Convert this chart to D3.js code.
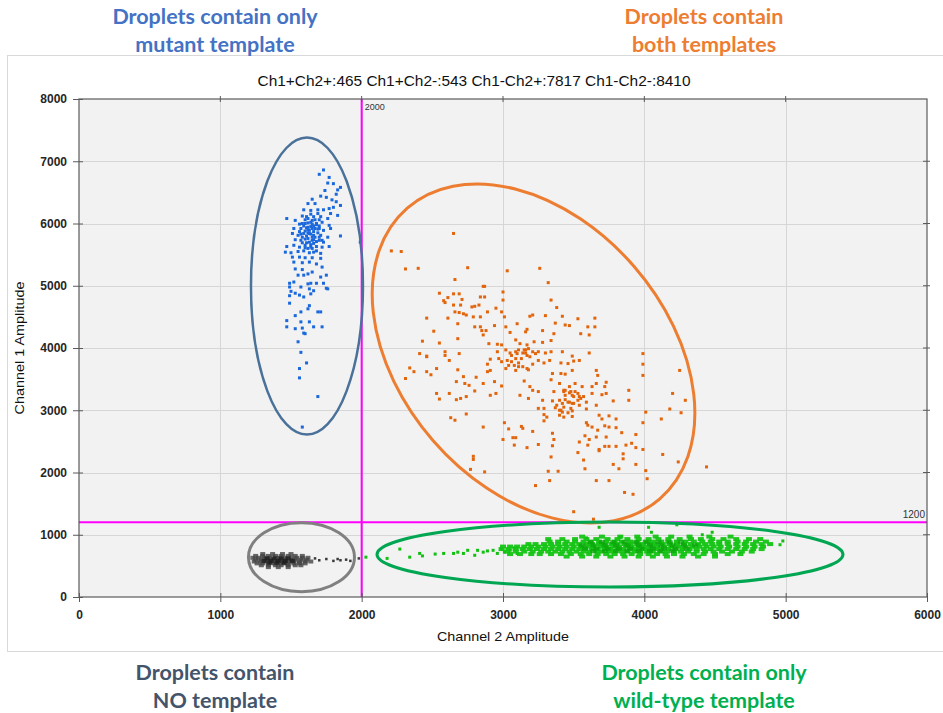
<!DOCTYPE html>
<html>
<head>
<meta charset="utf-8">
<script src="https://cdn.jsdelivr.net/npm/d3@7"></script>
<style>
  body { margin: 0; background: #fff; }
  svg text { font-family: "Liberation Sans", Arial, sans-serif; }
  .note { font-family: Lato, "Open Sans", sans-serif; font-weight: 700; font-size: 21.5px; }
</style>
</head>
<body>
<svg id="chart" width="943" height="713"></svg>
<script>
// ---- data ----
const xTicks = [0, 1000, 2000, 3000, 4000, 5000, 6000];
const yTicks = [0, 1000, 2000, 3000, 4000, 5000, 6000, 7000, 8000];
const titleText = 'Ch1+Ch2+:465 Ch1+Ch2-:543 Ch1-Ch2+:7817 Ch1-Ch2-:8410';
const ch2Threshold = 2000;
const ch1Threshold = 1200;

// Ch1+ Ch2- : mutant only (blue)
const bluePoints = [
  [1730,6860],[1700,6790],[1770,6740],[1760,6650],[1800,6640],[1830,6540],[1850,6580],[1740,6530],
  [1820,6470],[1710,6440],[1750,6420],[1790,6380],[1650,6390],[1620,6320],[1670,6320],[1820,6350],
  [1850,6290],[1800,6260],[1770,6240],[1590,6220],[1640,6210],[1690,6220],[1730,6220],[1780,6160],
  [1830,6130],[1470,6080],[1530,6050],[1580,6120],[1620,6080],[1660,6110],[1710,6110],[1760,6080],
  [1560,5990],[1600,6000],[1640,6020],[1680,6000],[1720,6020],[1770,5970],[1520,5920],[1570,5920],
  [1620,5940],[1650,5920],[1700,5920],[1730,5890],[1780,5920],[1510,5840],[1550,5810],[1590,5840],
  [1630,5840],[1660,5810],[1710,5810],[1760,5780],[1850,5800],[1990,5700],[1530,5740],[1570,5730],
  [1620,5760],[1650,5730],[1700,5730],[1730,5700],[1470,5630],[1520,5650],[1560,5620],[1600,5650],
  [1640,5620],[1680,5630],[1720,5620],[1770,5630],[1460,5540],[1500,5530],[1550,5550],[1590,5560],
  [1630,5530],[1660,5540],[1710,5520],[1510,5460],[1560,5460],[1600,5450],[1650,5450],[1710,5440],
  [1520,5380],[1580,5370],[1630,5380],[1680,5350],[1720,5300],[1530,5270],[1580,5260],[1620,5190],
  [1650,5220],[1550,5170],[1590,5170],[1710,5140],[1750,5170],[1490,5040],[1520,5060],[1620,5030],
  [1640,5040],[1680,5040],[1730,5040],[1490,4980],[1570,4980],[1630,4950],[1660,4920],[1750,4960],
  [1760,4950],[1500,4910],[1530,4880],[1640,4870],[1490,4840],[1560,4850],[1590,4820],[1490,4720],
  [1630,4680],[1620,4630],[1570,4580],[1530,4520],[1690,4580],[1710,4580],[1470,4440],[1570,4420],
  [1630,4420],[1470,4340],[1530,4310],[1580,4320],[1660,4340],[1720,4340],[1590,4240],[1600,4230],
  [1550,4100],[1570,3930],[1610,3760],[1560,3670],[1560,3520],[1690,3220],[1580,2730],
  [1620,5900],[1640,5950],[1660,5870],[1680,5980],[1600,5880],[1650,6050],[1670,5780],[1610,5800],
  [1690,5850],[1630,5700],[1640,6150],[1700,6060],[1580,5780],[1660,5680],[1620,5600],
  [1600,6060],[1620,6010],[1660,5960],[1690,5910],[1590,5960],[1610,5690],[1650,5780],[1700,5780],
  [1580,5690],[1560,5870],[1690,6160],[1670,6060],[1600,5610],[1650,5600],[1680,5560],
  [1610,5930],[1630,5890],[1670,5920],[1640,5830],[1600,5750],[1680,5710],[1620,5850],[1650,5990],
  [1570,5830],[1700,5960],[1640,5660],[1580,6000],[1720,5730],[1610,6110],[1660,5740]
];

// Ch1+ Ch2+ : both templates (orange)
const orangePoints = [
  [2650,5840],[2210,5560],[2280,5550],[2310,5270],[2400,5280],[2750,5290],[3030,5240],[3260,5280],
  [2660,5100],[3320,5050],[2860,4990],[2870,4990],[2550,4880],[2650,4870],[2690,4870],[3000,4900],
  [2610,4810],[2840,4820],[2870,4820],[2580,4760],[2590,4730],[2710,4780],[3340,4770],[3000,4770],
  [2650,4690],[2700,4690],[2780,4660],[2800,4670],[2830,4690],[2950,4640],[3380,4650],[2460,4480],
  [2610,4480],[2660,4580],[2690,4570],[2720,4550],[2740,4530],[2790,4500],[2840,4500],[2890,4580],
  [2990,4580],[3010,4500],[3190,4510],[3210,4530],[3300,4520],[3420,4510],[3530,4470],[3650,4480],
  [2680,4390],[2800,4340],[2840,4340],[2940,4360],[3020,4340],[3100,4390],[3170,4300],[3370,4400],
  [3440,4370],[3470,4360],[3600,4340],[3650,4340],[2510,4270],[2850,4280],[2880,4280],[3050,4250],
  [3160,4260],[3280,4280],[3360,4230],[3550,4230],[3610,4210],[2430,4110],[2550,4080],[2680,4150],
  [2860,4210],[2900,4070],[2960,4060],[2990,4050],[3090,4130],[3120,4070],[3170,4050],[3220,4100],
  [3280,4090],[3340,4120],[2590,3940],[2410,3910],[2460,3870],[2460,3860],[2590,3880],[2690,3910],
  [2960,3940],[3020,3970],[3050,3920],[3090,3940],[3110,3970],[3150,3970],[3160,3920],[3180,3990],
  [3210,3940],[3230,3910],[3250,3940],[3300,3920],[3340,3940],[3420,3940],[3490,3870],[3610,3920],
  [3990,3910],[2620,3800],[2890,3740],[2910,3820],[2970,3830],[2990,3780],[3030,3800],[3060,3780],
  [3080,3720],[3110,3760],[3140,3700],[3170,3670],[3210,3740],[3250,3800],[3290,3760],[3330,3800],
  [3410,3760],[3460,3750],[3500,3790],[3540,3800],[3990,3740],[2340,3680],[2370,3620],[2310,3510],
  [2460,3620],[2490,3570],[2530,3670],[2680,3650],[2890,3620],[2910,3640],[3020,3670],[3090,3640],
  [3180,3650],[3350,3590],[3410,3590],[3440,3580],[3490,3640],[3660,3640],[3670,3560],[4250,3640],
  [3990,3560],[2720,3540],[2670,3460],[2730,3430],[2760,3400],[2810,3530],[2860,3430],[2940,3460],
  [2990,3390],[3150,3470],[3190,3380],[3340,3490],[3400,3430],[3430,3320],[3470,3380],[3510,3430],
  [3560,3380],[3630,3380],[3660,3430],[3730,3450],[3720,3380],[2530,3270],[2620,3270],[2800,3310],
  [2910,3240],[2950,3270],[3120,3240],[3210,3320],[3250,3300],[3360,3300],[3430,3300],[3440,3240],
  [3480,3300],[3500,3220],[3530,3270],[3550,3190],[3570,3220],[3630,3270],[3700,3250],[3730,3270],
  [3890,3320],[4200,3270],[2550,3180],[2670,3170],[2700,3190],[2740,3220],[3180,3190],[3280,3160],
  [3350,3150],[3400,3160],[3420,3110],[3440,3170],[3470,3130],[3490,3110],[3540,3080],[3590,3130],
  [3660,3080],[3780,3150],[3890,3160],[4290,3160],[3250,3030],[3290,3030],[3370,3040],[3400,3000],
  [3420,2970],[3460,2960],[3490,2990],[3590,3020],[4010,2970],[4180,3020],[4260,2960],[2630,2880],
  [2660,2840],[2740,2940],[3290,2930],[3310,2890],[3400,2920],[3430,2890],[3490,2900],[3680,2920],
  [3750,2910],[3700,2860],[3800,2860],[3990,2800],[4120,2860],[3290,2830],[3010,2800],[3590,2800],
  [3600,2760],[3630,2730],[3670,2680],[3720,2750],[3750,2730],[3800,2720],[3840,2640],[2860,2730],
  [3040,2700],[3130,2740],[3140,2710],[3210,2660],[3350,2630],[3580,2590],[3610,2530],[3660,2570],
  [3730,2570],[3940,2610],[3070,2560],[3090,2560],[3000,2530],[3360,2530],[3540,2490],[3600,2440],
  [3680,2370],[3720,2420],[3750,2420],[3800,2420],[3870,2440],[3910,2470],[3940,2400],[3080,2440],
  [3170,2400],[3250,2450],[3350,2430],[3530,2320],[3680,2350],[3850,2300],[3990,2370],[2790,2260],
  [2790,2210],[3340,2250],[3570,2200],[3780,2130],[3850,2220],[3940,2130],[4130,2290],[4240,2170],
  [2770,2050],[2870,2010],[3320,2020],[3390,2020],[3580,2060],[3820,2060],[4010,2030],[3330,1870],
  [3660,1870],[3750,1870],[4020,1900],[3230,1790],[3860,1680],[3920,1650],[4440,2090],[3500,1370],
  [3640,1250],
  [3060,3880],[3100,3910],[3140,3920],[3160,3970],[3170,3880],[3190,3860],[3130,3830],[3090,3830],
  [3040,3720],[3110,3700],[3440,3320],[3470,3280],[3490,3240],[3510,3300],[3530,3160],[3460,3130],
  [3430,3050],[3410,3000],[3380,3080],[3480,3030],[3540,3220],[3500,3110]
];

// Ch1- Ch2+ : wild-type only (green) - sparse tail and outliers
const greenSparse = [
  [2030,640],[2180,620],[2270,770],[2340,640],[2410,700],[2430,660],[2520,690],[2580,700],
  [2650,700],[2680,720],[2720,700],[2750,750],[2800,670],[2820,750],[2860,720],[2890,740],
  [2930,750],[2960,700],[2990,770],[3010,720],[3050,750],[3080,790],[3100,700],
  [3590,950],[3680,1120],[4030,1120],[4050,1040],[4230,1160],[4410,1000],[4480,1040],
  [4960,840],[4980,900],[3830,960]
];
// dense band, listed row by row: [Ch1 amplitude, [Ch2 amplitudes]]
const greenBand = [
  [970, [3560,3700,3830,3950,4080,4190,4320,4460,4610]],
  [930, [3320,3420,3510,3590,3660,3740,3810,3880,3960,4030,4100,4170,4250,4330,4400,4480,4560,4650,4740,4820]],
  [890, [3330,3390,3450,3510,3570,3620,3680,3730,3790,3840,3900,3950,4010,4060,4120,4170,4230,4290,4350,4410,4470,4530,4590,4660,4720,4790,4860]],
  [850, [3180,3230,3290,3340,3390,3440,3490,3540,3590,3630,3680,3720,3770,3810,3860,3900,3950,3990,4040,4080,4130,4180,4230,4280,4330,4380,4430,4480,4530,4590,4650,4710,4770,4830,4890]],
  [810, [3000,3050,3100,3150,3200,3250,3300,3350,3400,3450,3500,3550,3600,3640,3690,3730,3780,3820,3870,3910,3960,4000,4050,4090,4140,4190,4240,4290,4340,4390,4440,4490,4540,4600,4660,4720,4780,4840]],
  [770, [2990,3040,3090,3140,3190,3240,3290,3340,3390,3440,3490,3540,3580,3630,3670,3720,3760,3810,3850,3900,3940,3990,4030,4080,4120,4170,4220,4270,4320,4370,4420,4470,4530,4590,4650,4710,4770,4830]],
  [730, [3030,3090,3150,3210,3270,3320,3370,3420,3470,3520,3570,3610,3660,3700,3750,3790,3840,3880,3930,3970,4020,4060,4110,4160,4210,4260,4310,4370,4430,4490,4550,4620,4690,4760]],
  [690, [3050,3120,3200,3260,3340,3410,3480,3550,3610,3670,3730,3790,3850,3910,3970,4030,4090,4150,4210,4280,4350,4420,4500,4590,4680]],
  [650, [3450,3560,3660,3760,3860,3960,4060,4160,4270,4380,4500]]
];
// darker, most crowded part of the band
const greenCore = [
  [880, [3620,3700,3780,3860,3940,4020,4100,4180,4260]],
  [830, [3560,3640,3720,3800,3880,3960,4040,4120,4200,4280,4360]],
  [780, [3580,3660,3740,3820,3900,3980,4060,4140,4220,4300]],
  [740, [3640,3720,3800,3880,3960,4040,4120,4200]]
];

// Ch1- Ch2- : no template (black)
const blackBand = [
  [690, [1300,1370,1440,1500]],
  [660, [1250,1300,1340,1390,1430,1480,1530,1580]],
  [630, [1230,1270,1310,1350,1390,1420,1460,1500,1540,1580,1620]],
  [600, [1250,1290,1330,1360,1400,1430,1460,1500,1530,1570,1610]],
  [570, [1240,1280,1320,1350,1390,1420,1450,1490,1520,1560,1600,1640]],
  [540, [1260,1300,1340,1380,1410,1450,1480,1520,1560,1600]],
  [510, [1290,1340,1390,1430,1480,1530,1570]],
  [480, [1340,1410,1480]]
];
const blackCore = [
  [620, [1330,1380,1430,1480]],
  [580, [1310,1360,1410,1460,1510]],
  [550, [1350,1400,1450]]
];
const blackSparse = [
  [1670,620],[1700,590],[1750,610],[1800,580],[1830,610],[1850,590],[1890,600],[1920,580],[1980,620]
];

// gating rings drawn over the clusters: centre in data units, radii in px
const rings = [
  { cx: 1613, cy: 4995, rx: 56, ry: 148.5, angle: 0, color: '#4a7199', w: 2.5 },
  { cx: 3216, cy: 3912, rx: 192.5, ry: 133, angle: 49, color: '#ed7d31', w: 3 },
  { cx: 1574, cy: 640, rx: 53, ry: 34.5, angle: 0, color: '#808080', w: 3 },
  { cx: 3757, cy: 683, rx: 233, ry: 32.5, angle: 0, color: '#00a651', w: 3 }
];

const notes = [
  { lines: ['Droplets contain only', 'mutant template'], cx: 215, y: 24, color: '#4472c4' },
  { lines: ['Droplets contain', 'both templates'], cx: 704, y: 24, color: '#ed7d31' },
  { lines: ['Droplets contain', 'NO template'], cx: 215, y: 680, color: '#44546a' },
  { lines: ['Droplets contain only', 'wild-type template'], cx: 704, y: 680, color: '#00b050' }
];

// ---- drawing ----
const svg = d3.select('#chart');
const x = d3.scaleLinear().domain([0, 6000]).range([79, 927]);
const y = d3.scaleLinear().domain([0, 8000]).range([597, 99]);

const rows = band => band.flatMap(([yy, xs]) => xs.map(xx => [xx, yy]));

// outer panel
svg.append('rect')
  .attr('x', 7.5).attr('y', 55.5).attr('width', 945).attr('height', 596)
  .attr('fill', '#fff').attr('stroke', '#d9d9d9');

// plot background
svg.append('rect')
  .attr('x', x(0)).attr('y', y(8000))
  .attr('width', x(6000) - x(0)).attr('height', y(0) - y(8000))
  .attr('fill', '#f2f2f2');

// grid
let grid = svg.append('g').attr('stroke', '#d6d6d6').attr('stroke-width', 1);
grid.selectAll('.gx').data(xTicks.slice(1, -1)).join('line')
  .attr('x1', d => Math.round(x(d)) + 0.5).attr('x2', d => Math.round(x(d)) + 0.5)
  .attr('y1', y(8000)).attr('y2', y(0));
grid.selectAll('.gy').data(yTicks.slice(1, -1)).join('line')
  .attr('y1', d => Math.round(y(d)) + 0.5).attr('y2', d => Math.round(y(d)) + 0.5)
  .attr('x1', x(0)).attr('x2', x(6000));

// thresholds
svg.append('line')
  .attr('x1', x(ch2Threshold)).attr('x2', x(ch2Threshold))
  .attr('y1', y(8000)).attr('y2', y(0))
  .attr('stroke', '#ff00ff').attr('stroke-width', 2);
svg.append('line')
  .attr('x1', x(0)).attr('x2', x(6000))
  .attr('y1', y(ch1Threshold)).attr('y2', y(ch1Threshold))
  .attr('stroke', '#ff00ff').attr('stroke-width', 2);
svg.append('text')
  .attr('x', x(ch2Threshold) + 3).attr('y', y(8000) + 11)
  .attr('font-size', 9).attr('fill', '#333').text(ch2Threshold);
svg.append('text')
  .attr('x', x(6000) - 2).attr('y', y(ch1Threshold) - 4)
  .attr('text-anchor', 'end').attr('font-size', 10).attr('fill', '#333').text(ch1Threshold);

// droplets
function drawPoints(pts, color, w, h, opacity) {
  svg.append('g').selectAll('rect').data(pts).join('rect')
    .attr('x', d => x(d[0]) - w / 2)
    .attr('y', d => y(d[1]) - h / 2)
    .attr('width', w).attr('height', h)
    .attr('fill', color).attr('fill-opacity', opacity);
}
drawPoints(rows(blackBand), '#444', 5, 4, 0.8);
drawPoints(rows(blackCore), '#1e1e1e', 5, 4, 0.8);
drawPoints(blackSparse, '#3a3a3a', 2.5, 2.5, 1);
drawPoints(greenSparse, '#12c012', 3, 3, 1);
drawPoints(rows(greenBand), '#14c414', 6, 4, 0.95);
drawPoints(rows(greenCore), '#0aa30a', 6, 4, 0.7);
drawPoints(bluePoints, '#1a68dc', 3, 3, 1);
drawPoints(orangePoints, '#e2650c', 3, 3, 1);

// rings
svg.append('g').selectAll('ellipse').data(rings).join('ellipse')
  .attr('transform', d => `translate(${x(d.cx)},${y(d.cy)}) rotate(${d.angle})`)
  .attr('rx', d => d.rx).attr('ry', d => d.ry)
  .attr('fill', 'none')
  .attr('stroke', d => d.color).attr('stroke-width', d => d.w);

// frame
svg.append('rect')
  .attr('x', x(0)).attr('y', y(8000))
  .attr('width', x(6000) - x(0)).attr('height', y(0) - y(8000))
  .attr('fill', 'none').attr('stroke', '#5a5a5a').attr('stroke-width', 1.2);

// axes
let gx = svg.append('g')
  .attr('transform', `translate(0,${y(0)})`)
  .call(d3.axisBottom(x).tickValues(xTicks).tickFormat(d3.format('d')).tickSizeOuter(0));
gx.selectAll('.tick line').attr('y1', -4).attr('y2', 5).attr('stroke', '#5a5a5a');
gx.selectAll('.tick text').attr('y', 13).attr('font-size', 12).attr('font-weight', 700).attr('fill', '#262626');
gx.select('.domain').remove();

let gy = svg.append('g')
  .attr('transform', `translate(${x(0)},0)`)
  .call(d3.axisLeft(y).tickValues(yTicks).tickFormat(d3.format('d')).tickSizeOuter(0));
gy.selectAll('.tick line').attr('x1', -6).attr('x2', 4).attr('stroke', '#5a5a5a');
gy.selectAll('.tick text').attr('x', -12).attr('font-size', 12).attr('font-weight', 700).attr('fill', '#262626');
gy.select('.domain').remove();

// inner ticks on top and right
svg.append('g').selectAll('line').data(xTicks.slice(1, -1)).join('line')
  .attr('x1', d => x(d)).attr('x2', d => x(d))
  .attr('y1', y(8000) - 3).attr('y2', y(8000) + 3).attr('stroke', '#5a5a5a');
svg.append('g').selectAll('line').data(yTicks.slice(1, -1)).join('line')
  .attr('y1', d => y(d)).attr('y2', d => y(d))
  .attr('x1', x(6000) - 4).attr('x2', x(6000) + 3).attr('stroke', '#5a5a5a');

// titles
svg.append('text')
  .attr('x', 474).attr('y', 86).attr('text-anchor', 'middle')
  .attr('font-size', 15).attr('fill', '#111')
  .attr('textLength', 433).attr('lengthAdjust', 'spacingAndGlyphs')
  .text(titleText);
svg.append('text')
  .attr('x', (x(0) + x(6000)) / 2).attr('y', 641).attr('text-anchor', 'middle')
  .attr('font-size', 13).attr('fill', '#111')
  .attr('textLength', 132).attr('lengthAdjust', 'spacingAndGlyphs')
  .text('Channel 2 Amplitude');
svg.append('text')
  .attr('transform', `translate(24,${(y(0) + y(8000)) / 2}) rotate(-90)`)
  .attr('text-anchor', 'middle')
  .attr('font-size', 13).attr('fill', '#111')
  .attr('textLength', 133).attr('lengthAdjust', 'spacingAndGlyphs')
  .text('Channel 1 Amplitude');

// notes around the chart
notes.forEach(n => {
  let t = svg.append('text').attr('class', 'note')
    .attr('text-anchor', 'middle').attr('fill', n.color);
  n.lines.forEach((line, i) => {
    t.append('tspan').attr('x', n.cx).attr('y', n.y + i * 28).text(line);
  });
});
</script>
</body>
</html>
